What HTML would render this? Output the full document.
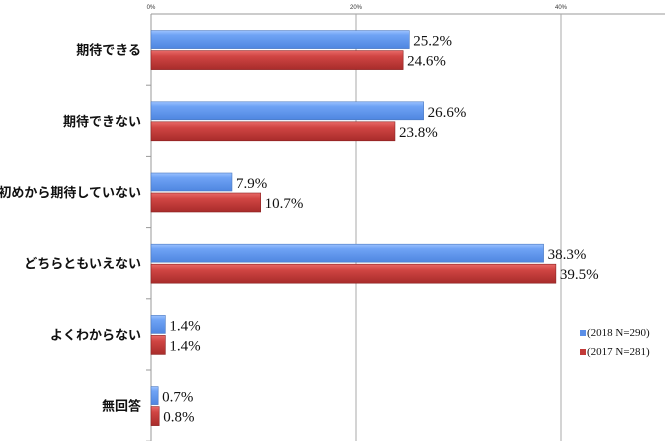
<!DOCTYPE html>
<html><head><meta charset="utf-8"><style>
body{margin:0;background:#fff;}
svg{display:block;}
</style></head><body>
<svg id="chart" width="670" height="441" xmlns="http://www.w3.org/2000/svg">
<defs>
<linearGradient id="gb" x1="0" y1="0" x2="0" y2="1"><stop offset="0" stop-color="#9cc2ff"/><stop offset="0.25" stop-color="#6fa3f5"/><stop offset="1" stop-color="#4f86e0"/></linearGradient>
<linearGradient id="gr" x1="0" y1="0" x2="0" y2="1"><stop offset="0" stop-color="#e86a68"/><stop offset="0.3" stop-color="#d04543"/><stop offset="1" stop-color="#a82c2b"/></linearGradient>
</defs>
</svg>
<script>
const categories=["期待できる","期待できない","初めから期待していない","どちらともいえない","よくわからない","無回答"];
const series2018=[25.2,26.6,7.9,38.3,1.4,0.7];
const series2017=[24.6,23.8,10.7,39.5,1.4,0.8];
const tickValues=[0,20,40];
const tickLabels=["0%","20%","40%"];
const NS="http://www.w3.org/2000/svg";
const svgEl=document.getElementById('chart');
const x0=151,pxPer=10.25,yTop=14,rowH=71.2;
const xs=v=>x0+v*pxPer;
const ys=i=>yTop+i*rowH;
function mk(t,a){const e=document.createElementNS(NS,t);for(const k in a)e.setAttribute(k,a[k]);svgEl.appendChild(e);return e;}
const ax=mk('line',{x1:x0,y1:yTop,x2:665,y2:yTop,stroke:'#999','stroke-width':1});


tickValues.forEach((v,i)=>{
  if(v>0){const g=mk('line',{x1:xs(v),y1:yTop,x2:xs(v),y2:441,stroke:'#aaa','stroke-width':1});
  
  }
  const t=mk('text',{x:xs(v),y:9,'font-size':6,'text-anchor':'middle','font-family':'Liberation Sans, sans-serif',fill:'#333'});
  t.textContent=tickLabels[i];
  
  
});
const ya=mk('line',{x1:x0,y1:yTop,x2:x0,y2:441,stroke:'#999','stroke-width':1});


categories.forEach((c,i)=>{
  const tk=mk('line',{x1:x0-5,y1:ys(i+1),x2:x0,y2:ys(i+1),stroke:'#999'});
  
  
  const cy=ys(i)+rowH/2;
  const l=mk('text',{x:141,y:cy+5,'font-size':13,'font-weight':'bold','text-anchor':'end','font-family':'Liberation Sans, Noto Sans CJK JP, sans-serif',fill:'#111'});
  l.textContent=c;
  
  
  const b1=mk('rect',{x:x0,y:cy-19,width:xs(series2018[i])-x0,height:18,fill:'url(#gb)',stroke:'#4a78c0','stroke-width':0.6});
  
  
  const b2=mk('rect',{x:x0,y:cy+1,width:xs(series2017[i])-x0,height:19,fill:'url(#gr)',stroke:'#8a2020','stroke-width':0.6});
  
  
  const v1=mk('text',{x:xs(series2018[i])+4,y:cy-4,'font-size':15,'font-family':'Liberation Serif, serif',fill:'#111'});
  v1.textContent=series2018[i].toFixed(1)+'%';
  
  
  const v2=mk('text',{x:xs(series2017[i])+4,y:cy+16,'font-size':15,'font-family':'Liberation Serif, serif',fill:'#111'});
  v2.textContent=series2017[i].toFixed(1)+'%';
  
  
});
[['(2018 N=290)','#5b8fe8',336],['(2017 N=281)','#c23a38',355]].forEach(([t,c,y])=>{
  const s=mk('rect',{x:580,y:y-6,width:6,height:6,fill:c});
  
  
  const tx=mk('text',{x:587,y:y,'font-size':11,'font-family':'Liberation Serif, serif',fill:'#111'});
  tx.textContent=t;
  
  
});
</script>
</body></html>
